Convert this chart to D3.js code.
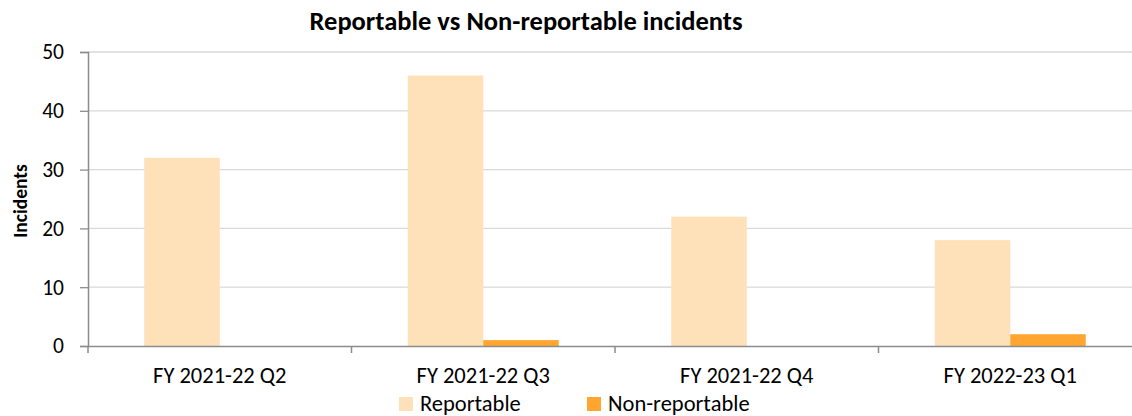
<!DOCTYPE html>
<html>
<head>
<meta charset="utf-8">
<script src="https://cdn.jsdelivr.net/npm/d3@7"></script>
<style>
  body { margin: 0; background: #fff; }
  text { font-family: Carlito, Lato, "Liberation Sans", sans-serif; fill: #000; }
</style>
</head>
<body>
<div id="chart"></div>
<script>
const categories = ["FY 2021-22 Q2", "FY 2021-22 Q3", "FY 2021-22 Q4", "FY 2022-23 Q1"];
const series = ["Reportable", "Non-reportable"];
const reportable = [32, 46, 22, 18];
const nonReportable = [0, 1, 0, 2];
const yTicks = [0, 10, 20, 30, 40, 50];
const colors = ["#fee0b9", "#ffa530"];

const width = 1132, height = 416;
const svg = d3.select("#chart").append("svg")
    .attr("width", width)
    .attr("height", height);

const x0 = d3.scaleBand().domain(categories).range([88, 1142]).padding(0);
const bw = x0.bandwidth();
const x1 = d3.scaleBand().domain(series).range([bw * 0.2135, bw * 0.7865]);
const y = d3.scaleLinear().domain([0, 50]).range([346, 52]);

// gridlines
svg.append("g").selectAll("line")
    .data(yTicks.slice(1))
    .join("line")
    .attr("x1", 88).attr("x2", width)
    .attr("y1", d => y(d)).attr("y2", d => y(d))
    .attr("stroke", "#d9d9d9").attr("stroke-width", 1.3);

const rows = categories.map((c, i) => ({ cat: c, vals: [reportable[i], nonReportable[i]] }));

const groups = svg.append("g").selectAll("g")
    .data(rows)
    .join("g")
    .attr("transform", d => "translate(" + x0(d.cat) + ",0)");

groups.selectAll("rect")
    .data(d => d.vals.map((v, j) => ({ s: series[j], v: v, j: j })))
    .join("rect")
    .attr("x", d => x1(d.s))
    .attr("width", x1.bandwidth())
    .attr("y", d => y(d.v))
    .attr("height", d => y(0) - y(d.v))
    .attr("fill", d => colors[d.j]);

// y axis
const yAxis = svg.append("g")
    .attr("transform", "translate(88,0)")
    .call(d3.axisLeft(y).tickValues(yTicks).tickSize(8).tickPadding(16));
yAxis.select(".domain").attr("stroke", "#8c8c8c").attr("stroke-width", 1.5);
yAxis.selectAll(".tick line").attr("stroke", "#8c8c8c").attr("stroke-width", 1.3);
yAxis.selectAll("text").style("font-size", "21.5px").attr("fill", "#000");

// x axis
const xAxis = svg.append("g")
    .attr("transform", "translate(0," + y(0) + ")")
    .call(d3.axisBottom(x0).tickSize(0).tickPadding(21));
xAxis.select(".domain").attr("stroke", "#8c8c8c").attr("stroke-width", 1.5);
xAxis.selectAll("text").style("font-size", "22.5px").attr("fill", "#000");
svg.append("g").selectAll("line")
    .data(categories)
    .join("line")
    .attr("x1", d => x0(d)).attr("x2", d => x0(d))
    .attr("y1", y(0)).attr("y2", y(0) + 7)
    .attr("stroke", "#8c8c8c").attr("stroke-width", 1.5);

// title
svg.append("text")
    .attr("x", 526).attr("y", 30)
    .attr("text-anchor", "middle")
    .style("font-size", "26.5px").style("font-weight", "bold")
    .text("Reportable vs Non-reportable incidents");

svg.append("text")
    .attr("transform", "translate(27,201) rotate(-90)")
    .attr("text-anchor", "middle")
    .style("font-size", "19.5px").style("font-weight", "bold")
    .text("Incidents");

// legend
const legendX = [399, 587];
const legend = svg.append("g").selectAll("g")
    .data(series)
    .join("g")
    .attr("transform", (d, i) => "translate(" + legendX[i] + ",397)");
legend.append("rect")
    .attr("width", 14).attr("height", 14)
    .attr("fill", (d, i) => colors[i]);
legend.append("text")
    .attr("x", 21).attr("y", 14)
    .style("font-size", "22.5px")
    .text(d => d);
</script>
</body>
</html>
